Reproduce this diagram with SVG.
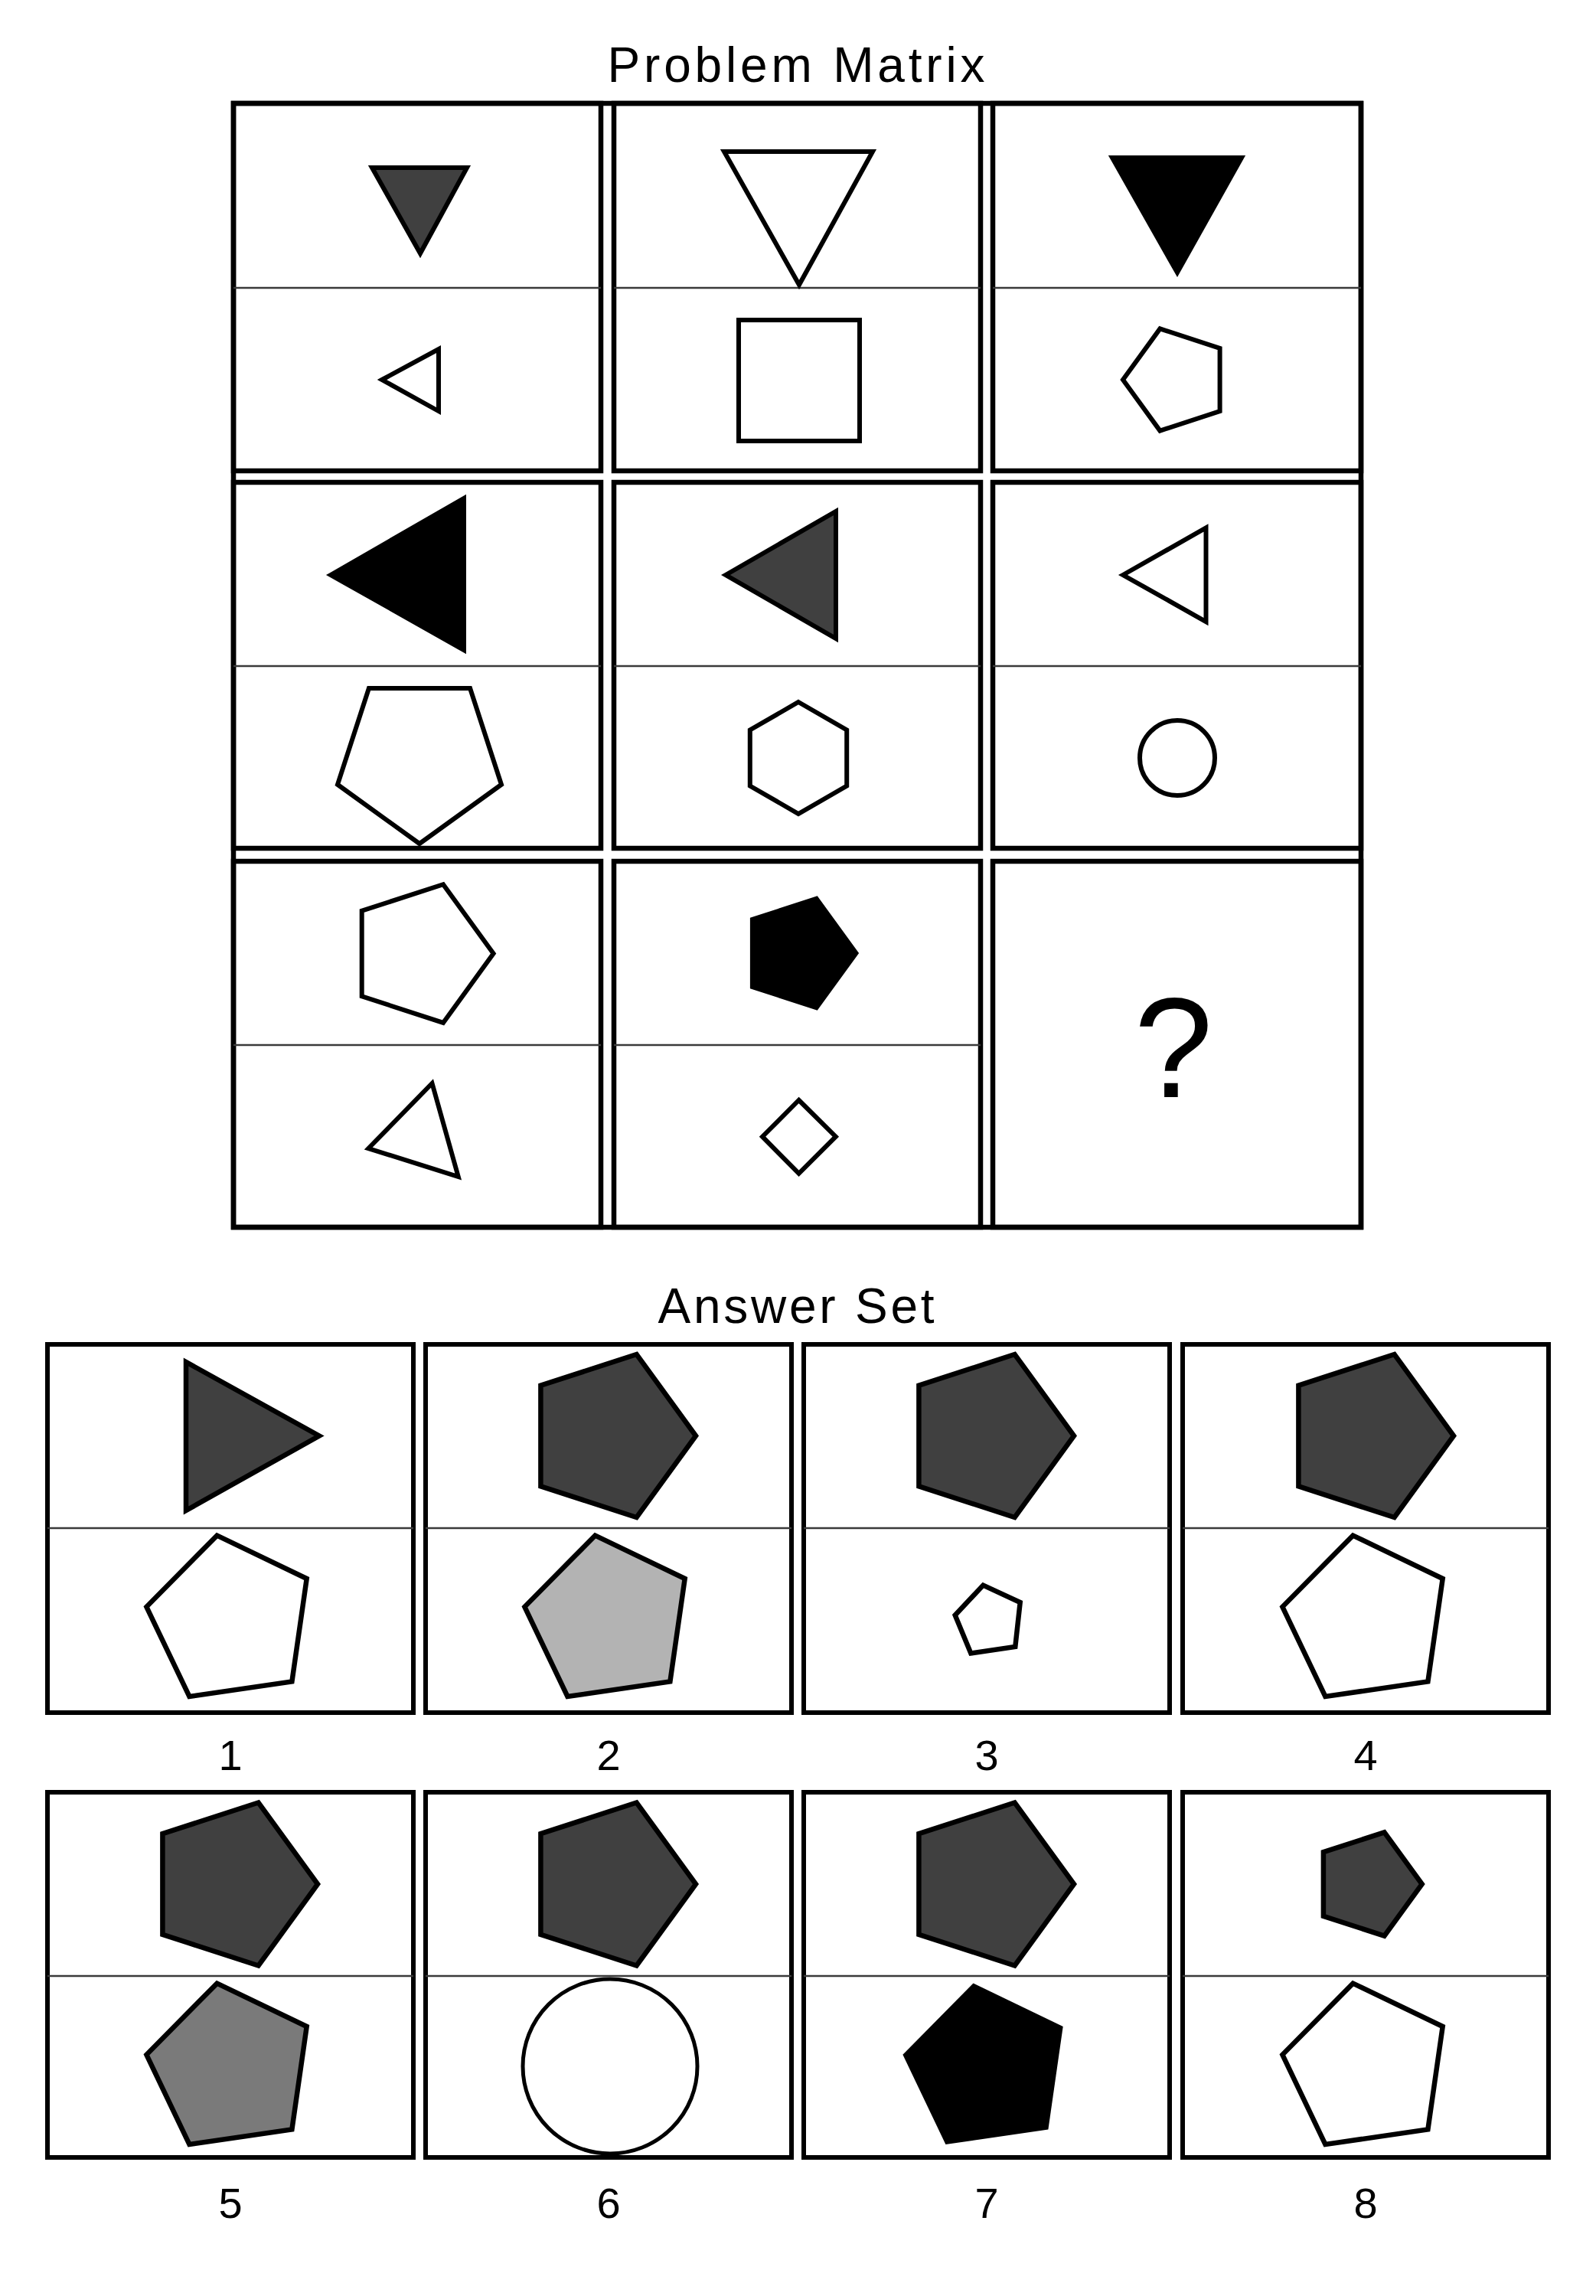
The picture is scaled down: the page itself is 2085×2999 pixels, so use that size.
<svg xmlns="http://www.w3.org/2000/svg" width="2085" height="2999" viewBox="0 0 2085 2999">
<style>
.t{font-family:"Liberation Sans",Arial,sans-serif;fill:#000;text-anchor:middle}
.cell{fill:none;stroke:#000;stroke-width:6.5}
.box{fill:none;stroke:#000;stroke-width:6}
.div{stroke:#3a3a3a;stroke-width:2.5}
.s{stroke:#000;stroke-width:6;stroke-linejoin:miter}
.a{stroke:#000;stroke-width:6.5;stroke-linejoin:miter}
.w{fill:#fff}.k{fill:#000}.d{fill:#404040}.l{fill:#b3b3b3}.m{fill:#7a7a7a}
</style>
<defs>
<polygon id="pentR" points="112,0 34.6,-106.5 -90.6,-65.8 -90.6,65.8 34.6,106.5"/>
<polygon id="pentT" points="-17.5,-110.4 99.7,-54 80.4,80.4 -53.6,100 -109.6,-17.2"/>
</defs>
<rect width="2085" height="2999" fill="#fff"/>
<text class="t" x="1040" y="107" font-size="64" textLength="493" lengthAdjust="spacing">Problem Matrix</text>
<g id="matrix-frame"><rect class="cell" x="305" y="135" width="1473" height="1468"/></g>
<g id="cell-1-1">
<rect class="cell" x="305" y="135" width="480" height="480"/>
<line class="div" x1="305" y1="376" x2="785" y2="376"/>
<polygon class="s d" points="486,219 610,219 549,331"/>
<polygon class="s w" points="499,496 573,456 573,537"/>
</g>
<g id="cell-1-2">
<rect class="cell" x="802" y="135" width="479" height="480"/>
<line class="div" x1="802" y1="376" x2="1281" y2="376"/>
<polygon class="s w" points="946,198 1140,198 1044,372"/>
<rect class="s w" x="965" y="418" width="158" height="158"/>
</g>
<g id="cell-1-3">
<rect class="cell" x="1297" y="135" width="481" height="480"/>
<line class="div" x1="1297" y1="376" x2="1778" y2="376"/>
<polygon class="s k" points="1453,206 1622,206 1538,356"/>
<polygon class="s w" points="1467,496 1515.4,429.4 1593.6,454.9 1593.6,537.1 1515.4,562.6"/>
</g>
<g id="cell-2-1">
<rect class="cell" x="305" y="630" width="480" height="478"/>
<line class="div" x1="305" y1="870" x2="785" y2="870"/>
<polygon class="s k" points="432,751 606,651 606,849"/>
<polygon class="s w" points="548,1102 441,1024.8 481.9,899 614.1,899 655,1024.8"/>
</g>
<g id="cell-2-2">
<rect class="cell" x="802" y="630" width="479" height="478"/>
<line class="div" x1="802" y1="870" x2="1281" y2="870"/>
<polygon class="s d" points="948,751 1092,668 1092,834"/>
<polygon class="s w" points="1043,917 1106.2,953.5 1106.2,1026.5 1043,1063 979.8,1026.5 979.8,953.5"/>
</g>
<g id="cell-2-3">
<rect class="cell" x="1297" y="630" width="481" height="478"/>
<line class="div" x1="1297" y1="870" x2="1778" y2="870"/>
<polygon class="s w" points="1467,751 1575.5,689.5 1575.5,812"/>
<circle class="s w" cx="1538" cy="990" r="49"/>
</g>
<g id="cell-3-1">
<rect class="cell" x="305" y="1125" width="480" height="478"/>
<line class="div" x1="305" y1="1365" x2="785" y2="1365"/>
<polygon class="s w" points="644.6,1245.5 579,1155.2 472.7,1189.7 472.7,1301.3 579,1335.9"/>
<polygon class="s w" points="564.5,1415 598.7,1537 481.3,1500"/>
</g>
<g id="cell-3-2">
<rect class="cell" x="802" y="1125" width="479" height="478"/>
<line class="div" x1="802" y1="1365" x2="1281" y2="1365"/>
<polygon class="s k" points="1118.4,1245 1066.6,1173.8 982.9,1201 982.9,1289 1066.6,1316.2"/>
<polygon class="s w" points="1043.6,1437 1091.8,1484.7 1043.6,1532.8 996,1484.7"/>
</g>
<g id="cell-3-3">
<rect class="cell" x="1297" y="1125" width="481" height="478"/>
<text class="t" x="1533" y="1433" font-size="185">?</text>
</g>
<text class="t" x="1040" y="1728" font-size="64" textLength="361" lengthAdjust="spacing">Answer Set</text>
<g id="answer-1">
<rect class="box" x="62" y="1756" width="478" height="481"/>
<line class="div" x1="62" y1="1996" x2="540" y2="1996"/>
<polygon class="a d" points="243,1779 243,1973 417,1875.5"/>
<use href="#pentT" x="301" y="2116" class="a w"/>
<text class="t" x="301" y="2312" font-size="56">1</text>
</g>
<g id="answer-2">
<rect class="box" x="556" y="1756" width="478" height="481"/>
<line class="div" x1="556" y1="1996" x2="1034" y2="1996"/>
<use href="#pentR" x="797" y="1875.5" class="a d"/>
<use href="#pentT" x="795" y="2116" class="a l"/>
<text class="t" x="795" y="2312" font-size="56">2</text>
</g>
<g id="answer-3">
<rect class="box" x="1050" y="1756" width="478" height="481"/>
<line class="div" x1="1050" y1="1996" x2="1528" y2="1996"/>
<use href="#pentR" x="1291" y="1875.5" class="a d"/>
<polygon class="a w" points="1284.4,2070.6 1332.7,2093 1326.3,2151 1268.3,2159.5 1247.7,2109.7"/>
<text class="t" x="1289" y="2312" font-size="56">3</text>
</g>
<g id="answer-4">
<rect class="box" x="1545" y="1756" width="478" height="481"/>
<line class="div" x1="1545" y1="1996" x2="2023" y2="1996"/>
<use href="#pentR" x="1787" y="1875.5" class="a d"/>
<use href="#pentT" x="1785" y="2116" class="a w"/>
<text class="t" x="1784" y="2312" font-size="56">4</text>
</g>
<g id="answer-5">
<rect class="box" x="62" y="2341" width="478" height="477"/>
<line class="div" x1="62" y1="2581" x2="540" y2="2581"/>
<use href="#pentR" x="303" y="2461" class="a d"/>
<use href="#pentT" x="301" y="2701" class="a m"/>
<text class="t" x="301" y="2897" font-size="56">5</text>
</g>
<g id="answer-6">
<rect class="box" x="556" y="2341" width="478" height="477"/>
<line class="div" x1="556" y1="2581" x2="1034" y2="2581"/>
<use href="#pentR" x="797" y="2461" class="a d"/>
<circle class="w" cx="797" cy="2699" r="114" stroke="#000" stroke-width="5"/>
<text class="t" x="795" y="2897" font-size="56">6</text>
</g>
<g id="answer-7">
<rect class="box" x="1050" y="2341" width="478" height="477"/>
<line class="div" x1="1050" y1="2581" x2="1528" y2="2581"/>
<use href="#pentR" x="1291" y="2461" class="a d"/>
<use href="#pentT" x="1289" y="2701" class="k"/>
<text class="t" x="1289" y="2897" font-size="56">7</text>
</g>
<g id="answer-8">
<rect class="box" x="1545" y="2341" width="478" height="477"/>
<line class="div" x1="1545" y1="2581" x2="2023" y2="2581"/>
<polygon class="a d" points="1857.7,2461 1808.5,2393.3 1728.9,2419.2 1728.9,2502.8 1808.5,2528.7"/>
<use href="#pentT" x="1785" y="2701" class="a w"/>
<text class="t" x="1784" y="2897" font-size="56">8</text>
</g>
</svg>
